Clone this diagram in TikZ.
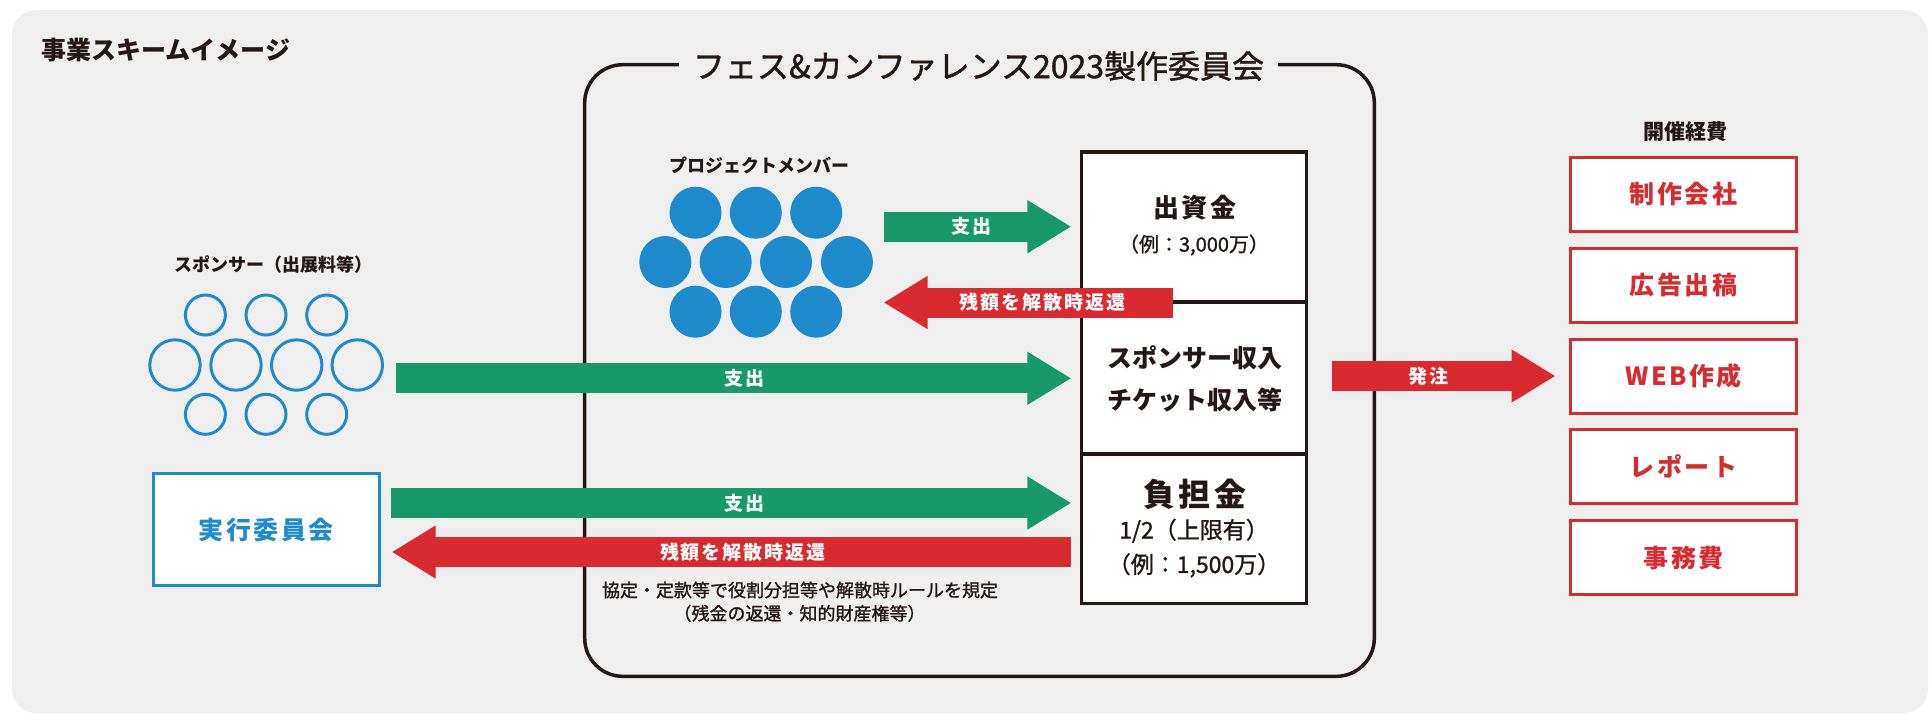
\documentclass[tikz,border=0pt]{standalone}
\usepackage{fontspec}
\setmainfont{Noto Sans CJK JP}
\newfontfamily\jpsp{Noto Sans CJK JP}[LetterSpace=10]
\newfontfamily\jpmed{Noto Sans CJK JP}[FakeBold=1.2]
\usetikzlibrary{arrows.meta}

\definecolor{bggray}{RGB}{239,239,239}
\definecolor{ink}{RGB}{35,24,21}
\definecolor{fgreen}{RGB}{24,153,106}
\definecolor{fred}{RGB}{217,43,47}
\definecolor{fblue}{RGB}{30,139,205}

\tikzset{
  fat/.style={line width=15pt, -{Triangle[length=22pt,width=25pt]}},
  flow/.style={fat, draw=fgreen},
  back/.style={fat, draw=fred},
  lbl/.style={text=white, font=\jpsp\bfseries\fontsize{9.5}{10}\selectfont},
  money/.style={draw=ink, line width=1.65pt, fill=white, minimum width=112.5pt, inner sep=0pt},
  cost/.style={draw=fred, line width=1.5pt, fill=white, minimum width=113pt, minimum height=37pt,
    text=fred, font=\jpsp\bfseries\fontsize{12.5}{13}\selectfont},
  member/.style={circle, fill=fblue, minimum size=26pt, inner sep=0pt},
  sponsor/.style={circle, draw=fblue, line width=1.5pt, inner sep=0pt},
  txt/.style={text=ink, inner sep=0pt},
}

\begin{document}
\begin{tikzpicture}[x=0.5pt, y=-0.5pt]
  \useasboundingbox (0,0) rectangle (1930,714);
  \fill[bggray, rounded corners=12pt] (12,10) rectangle (1928,713);
  \node[txt, anchor=west, font=\bfseries\fontsize{12.5}{13}\selectfont] (scheme) at (41,50) {事業スキームイメージ};

  % committee frame
  \draw[ink, line width=1.75pt, rounded corners=19pt] (584.7,64.7) rectangle (1374.3,676.3);
  \node[fill=bggray, text=ink, inner xsep=7pt, inner ysep=2pt, font=\jpmed\fontsize{16}{17}\selectfont] (committee) at (978.5,66) {フェス\&カンファレンス2023製作委員会};

  % project members
  \node[txt, font=\bfseries\fontsize{9}{10}\selectfont] (memberlbl) at (759,165) {プロジェクトメンバー};
  \foreach \x [count=\i] in {695.5,755.8,816.2} \node[member] (m\i) at (\x,212.7) {};
  \foreach \x [count=\i from 4] in {665.3,725.7,786,846.9} \node[member] (m\i) at (\x,262) {};
  \foreach \x [count=\i from 8] in {695.5,755.8,816.2} \node[member] (m\i) at (\x,311.7) {};

  % sponsors
  \node[txt, font=\bfseries\fontsize{9}{10}\selectfont] (sponsorlbl) at (273.4,265) {スポンサー（出展料等）};
  \foreach \x [count=\i] in {205.4,266,326.7} \node[sponsor, minimum size=20pt] (s\i) at (\x,315) {};
  \foreach \x [count=\i from 4] in {175,236,296.7,357.3} \node[sponsor, minimum size=25.2pt] (s\i) at (\x,365) {};
  \foreach \x [count=\i from 8] in {205.4,266,326.7} \node[sponsor, minimum size=20pt] (s\i) at (\x,414.3) {};

  \node[draw=fblue, line width=1.5pt, fill=white, minimum width=113pt, minimum height=56pt,
    text=fblue, font=\jpsp\bfseries\fontsize{12.5}{13}\selectfont] (exec) at (266.2,529.6) {実行委員会};

  % money boxes
  \node[money, minimum height=75pt] (fund) at (1194,227) {};
  \node[money, minimum height=76pt] (sales) at (1194,378) {};
  \node[money, minimum height=74.75pt] (burden) at (1194,528.7) {};
  \node[txt, font=\jpsp\bfseries\fontsize{13}{14}\selectfont] (fundt) at (1195,207.7) {出資金};
  \node[txt, font=\jpmed\fontsize{10}{11}\selectfont] (fundn) at (1194,245) {（例：3,000万）};
  \node[txt, font=\bfseries\fontsize{12.5}{13}\selectfont] (salest1) at (1195,357.3) {スポンサー収入};
  \node[txt, font=\bfseries\fontsize{12.5}{13}\selectfont] (salest2) at (1195,400) {チケット収入等};
  \node[txt, font=\jpsp\bfseries\fontsize{16}{17}\selectfont] (burdent) at (1195,494) {負担金};
  \node[txt, font=\jpmed\fontsize{11.5}{12}\selectfont] (burdenn1) at (1194,530.7) {1/2（上限有）};
  \node[txt, font=\jpmed\fontsize{11.5}{12}\selectfont] (burdenn2) at (1194,565.3) {（例：1,500万）};

  \node[txt, font=\jpmed\fontsize{9}{10}\selectfont] (rule1) at (800,590) {協定・定款等で役割分担等や解散時ルールを規定};
  \node[txt, font=\jpmed\fontsize{9}{10}\selectfont] (rule2) at (799.5,613.3) {（残金の返還・知的財産権等）};

  % costs
  \node[txt, font=\bfseries\fontsize{10.5}{11}\selectfont] (costlbl) at (1685,131.7) {開催経費};
  \foreach \t [count=\i from 0] in {制作会社,広告出稿,WEB作成,レポート,事務費}
    \node[cost] (c\i) at (1683.5,194.3+90.85*\i) {\t};

  % arrows
  \coordinate (pmout) at (883.6,226.7);
  \coordinate (pmret) at (883.6,302.5);
  \coordinate (fundret) at (1172.7,302.5);
  \coordinate (spout) at (396,378.3);
  \coordinate (exout) at (391,503);
  \coordinate (exret) at (391.7,552);
  \draw[flow, shorten >=4.25pt] (pmout) -- (fund.west|-pmout) node[lbl, pos=0.45] {支出};
  \draw[back] (fundret) -- (pmret) node[lbl, pos=0.45] {残額を解散時返還};
  \draw[flow, shorten >=4.25pt] (spout) -- (sales.west|-spout) node[lbl, pos=0.51] {支出};
  \draw[flow, shorten >=4.25pt] (exout) -- (burden.west|-exout) node[lbl, pos=0.513] {支出};
  \draw[back, shorten <=4.25pt] (burden.west|-exret) -- (exret) node[lbl, pos=0.49] {残額を解散時返還};
  \draw[back, shorten <=11.75pt, shorten >=6.75pt] (sales.east|-c2.west) -- (c2.west) node[lbl, pos=0.46] {発注};
\end{tikzpicture}
\end{document}
